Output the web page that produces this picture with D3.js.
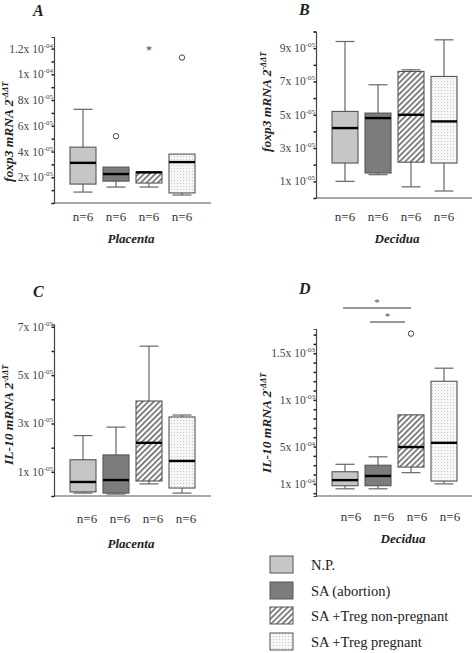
<!DOCTYPE html>
<html><head><meta charset="utf-8">
<script src="https://cdn.jsdelivr.net/npm/d3@7"></script>
<style>body{margin:0;background:#fff}svg{display:block}text{font-family:"Liberation Serif","Times New Roman",serif;fill:#222}</style>
</head><body><svg id="c" width="475" height="653"></svg>
<script>
// ---- data ----
const groups = ["N.P.", "SA (abortion)", "SA +Treg non-pregnant", "SA +Treg pregnant"];
const nLabels = ["n=6", "n=6", "n=6", "n=6"];
// [whisker low, Q1, median, Q3, whisker high]
const foxp3Placenta = [
  [0.85e-5, 1.47e-5, 3.12e-5, 4.34e-5, 7.28e-5],
  [1.24e-5, 1.70e-5, 2.25e-5, 2.79e-5, 2.79e-5],
  [1.24e-5, 1.55e-5, 2.38e-5, 2.42e-5, 2.42e-5],
  [0.62e-5, 0.78e-5, 3.18e-5, 3.80e-5, 3.80e-5]
];
const foxp3PlacentaOutliers = [[1, 5.19e-5, "o"], [2, 1.20e-4, "*"], [3, 1.13e-4, "o"]];
const foxp3Decidua = [
  [1.00e-5, 2.10e-5, 4.20e-5, 5.20e-5, 9.40e-5],
  [1.40e-5, 1.50e-5, 4.80e-5, 5.10e-5, 6.80e-5],
  [0.67e-5, 2.15e-5, 5.00e-5, 7.60e-5, 7.70e-5],
  [0.42e-5, 2.10e-5, 4.60e-5, 7.30e-5, 9.50e-5]
];
const foxp3DeciduaOutliers = [];
const il10Placenta = [
  [0.12e-5, 0.17e-5, 0.58e-5, 1.50e-5, 2.50e-5],
  [0.08e-5, 0.12e-5, 0.66e-5, 1.70e-5, 2.85e-5],
  [0.50e-5, 0.62e-5, 2.20e-5, 3.93e-5, 6.20e-5],
  [0.12e-5, 0.33e-5, 1.45e-5, 3.27e-5, 3.35e-5]
];
const il10PlacentaOutliers = [];
const il10Decidua = [
  [0.47e-4, 0.80e-4, 1.40e-4, 2.30e-4, 3.10e-4],
  [0.47e-4, 0.80e-4, 1.85e-4, 3.00e-4, 3.90e-4],
  [2.20e-4, 2.80e-4, 4.95e-4, 8.40e-4, 8.40e-4],
  [1.00e-4, 1.30e-4, 5.40e-4, 1.20e-3, 1.34e-3]
];
const il10DeciduaOutliers = [[2, 1.71e-3, "o"]];
// significance brackets: [from group, to group]
const il10DeciduaSig = [[0, 2], [1, 2]];

const foxp3PlacentaTicks = [2e-5, 4e-5, 6e-5, 8e-5, 1e-4, 1.2e-4];
const foxp3PlacentaTickMant = ["2", "4", "6", "8", "1", "1.2"];
const foxp3PlacentaTickExp = ["-05", "-05", "-05", "-05", "-04", "-04"];
const foxp3DeciduaTicks = [1e-5, 3e-5, 5e-5, 7e-5, 9e-5];
const foxp3DeciduaTickMant = ["1", "3", "5", "7", "9"];
const foxp3DeciduaTickExp = ["-05", "-05", "-05", "-05", "-05"];
const il10PlacentaTicks = [1e-5, 3e-5, 5e-5, 7e-5];
const il10PlacentaTickMant = ["1", "3", "5", "7"];
const il10PlacentaTickExp = ["-05", "-05", "-05", "-05"];
const il10DeciduaTicks = [1e-4, 5e-4, 1e-3, 1.5e-3];
const il10DeciduaTickMant = ["1", "5", "1", "1.5"];
const il10DeciduaTickExp = ["-04", "-04", "-03", "-03"];

// ---- layout ----
const panels = [
  {letter: "A", stats: foxp3Placenta, out: foxp3PlacentaOutliers, sig: [], gene: "foxp3", tissue: "Placenta",
   ticks: foxp3PlacentaTicks, mant: foxp3PlacentaTickMant, exp: foxp3PlacentaTickExp,
   domain: [0, 1.29e-4], minor: 1e-5, ax: 54, axEnd: 211, yBot: 203, yTop: 37,
   letterPos: [33, 16], ylab: [13, 132], nY: 221, nDx: 0, tY: 243, tX: 131},
  {letter: "B", stats: foxp3Decidua, out: foxp3DeciduaOutliers, sig: [], gene: "foxp3", tissue: "Decidua",
   ticks: foxp3DeciduaTicks, mant: foxp3DeciduaTickMant, exp: foxp3DeciduaTickExp,
   domain: [0, 1.0e-4], minor: 1e-5, ax: 316, axEnd: 472, yBot: 198, yTop: 31.5,
   letterPos: [299, 15], ylab: [271, 102], nY: 221, nDx: 0, tY: 243, tX: 397},
  {letter: "C", stats: il10Placenta, out: il10PlacentaOutliers, sig: [], gene: "IL-10", tissue: "Placenta",
   ticks: il10PlacentaTicks, mant: il10PlacentaTickMant, exp: il10PlacentaTickExp,
   domain: [0, 7.1e-5], minor: 1e-5, ax: 54, axEnd: 211, yBot: 496, yTop: 324.4,
   letterPos: [33, 297], ylab: [13, 415], nY: 523, nDx: 4, tY: 548, tX: 131},
  {letter: "D", stats: il10Decidua, out: il10DeciduaOutliers, sig: il10DeciduaSig, gene: "IL-10", tissue: "Decidua",
   ticks: il10DeciduaTicks, mant: il10DeciduaTickMant, exp: il10DeciduaTickExp,
   domain: [-3e-5, 1.76e-3], minor: 1e-4, ax: 316, axEnd: 472, yBot: 496, yTop: 329,
   letterPos: [299, 294], ylab: [271, 423], nY: 521, nDx: 6, tY: 543, tX: 403,
   sigY: [308, 322], sigOff: [[-2, 0], [-8, -6]]}
];

const svg = d3.select("#c");
const defs = svg.append("defs");
const hatch = defs.append("pattern").attr("id", "hatch").attr("patternUnits", "userSpaceOnUse")
  .attr("width", 4).attr("height", 4).attr("patternTransform", "rotate(45)");
hatch.append("rect").attr("width", 4).attr("height", 4).attr("fill", "#fff");
hatch.append("line").attr("x1", 0.8).attr("y1", 0).attr("x2", 0.8).attr("y2", 4).attr("stroke", "#444").attr("stroke-width", 1.3);
const dots = defs.append("pattern").attr("id", "dots").attr("patternUnits", "userSpaceOnUse").attr("width", 3).attr("height", 3);
dots.append("rect").attr("width", 3).attr("height", 3).attr("fill", "#f6f6f6");
dots.append("rect").attr("width", 1).attr("height", 1).attr("fill", "#c8c8c8");

const fills = ["#c6c6c6", "#7c7c7c", "url(#hatch)", "url(#dots)"];
const BW = 26, CAP = 19;

panels.forEach(p => {
  const g = svg.append("g");
  const y = d3.scaleLinear().domain(p.domain).range([p.yBot, p.yTop]);
  const x = d3.scalePoint().domain(groups).range([p.ax + 29, p.ax + 128]);

  // y axis
  const minorVals = d3.range(Math.ceil(p.domain[0] / p.minor) * p.minor, p.domain[1] + 1e-12, p.minor)
    .map(v => Math.round(v / p.minor) * p.minor);
  const axis = d3.axisLeft(y).tickValues(minorVals).tickSize(2.5).tickFormat("");
  const ag = g.append("g").attr("transform", `translate(${p.ax},0)`).call(axis);
  ag.select(".domain").attr("stroke", "#444").attr("stroke-width", 1.2);
  ag.selectAll(".tick line").attr("stroke", "#222").attr("stroke-width", 1.5);
  // tick labels
  p.ticks.forEach((v, i) => {
    const t = g.append("text").attr("x", p.ax - 1).attr("y", y(v) + 4).attr("text-anchor", "end")
      .style("font-size", "11.5px").style("fill", "#444");
    t.append("tspan").text(p.mant[i] + "x 10");
    t.append("tspan").attr("dy", -5).style("font-size", "7px").text(p.exp[i]);
  });
  // x axis line
  g.append("line").attr("x1", p.ax).attr("x2", p.axEnd).attr("y1", p.yBot).attr("y2", p.yBot)
    .attr("stroke", "#555").attr("stroke-width", 1.2);

  // boxes
  p.stats.forEach((s, i) => {
    const cx = x(groups[i]);
    const [lo, q1, md, q3, hi] = s;
    const wc = "#666";
    g.append("line").attr("x1", cx).attr("x2", cx).attr("y1", y(hi)).attr("y2", y(q3)).attr("stroke", wc).attr("stroke-width", 1.2);
    g.append("line").attr("x1", cx).attr("x2", cx).attr("y1", y(q1)).attr("y2", y(lo)).attr("stroke", wc).attr("stroke-width", 1.2);
    if (hi > q3) g.append("line").attr("x1", cx - CAP / 2).attr("x2", cx + CAP / 2).attr("y1", y(hi)).attr("y2", y(hi)).attr("stroke", wc).attr("stroke-width", 1.2);
    g.append("line").attr("x1", cx - CAP / 2).attr("x2", cx + CAP / 2).attr("y1", y(lo)).attr("y2", y(lo)).attr("stroke", wc).attr("stroke-width", 1.2);
    g.append("rect").attr("x", cx - BW / 2).attr("width", BW).attr("y", y(q3)).attr("height", y(q1) - y(q3))
      .attr("fill", fills[i]).attr("stroke", "#555").attr("stroke-width", 1.1);
    g.append("line").attr("x1", cx - BW / 2).attr("x2", cx + BW / 2).attr("y1", y(md)).attr("y2", y(md))
      .attr("stroke", "#000").attr("stroke-width", 2.4);
  });
  // outliers
  p.out.forEach(([gi, v, type]) => {
    const cx = x(groups[gi]);
    if (type === "o") {
      g.append("circle").attr("cx", cx).attr("cy", y(v)).attr("r", 2.7).attr("fill", "none").attr("stroke", "#444").attr("stroke-width", 1);
    } else {
      g.append("text").attr("x", cx).attr("y", y(v) + 5).attr("text-anchor", "middle").style("font-size", "12px").style("fill", "#444").text("*");
    }
  });
  // significance
  p.sig.forEach(([a, b], k) => {
    const x1 = x(groups[a]) + p.sigOff[k][0], x2 = x(groups[b]) + p.sigOff[k][1];
    const ly = p.sigY[k];
    g.append("line").attr("x1", x1).attr("x2", x2).attr("y1", ly).attr("y2", ly).attr("stroke", "#777").attr("stroke-width", 1.3);
    g.append("text").attr("x", (x1 + x2) / 2 + (k === 0 ? 0 : 0)).attr("y", ly - 2).attr("text-anchor", "middle")
      .style("font-size", "11px").style("fill", "#555").text("*");
  });
  // n labels
  nLabels.forEach((n, i) => {
    g.append("text").attr("x", x(groups[i]) + p.nDx).attr("y", p.nY).attr("text-anchor", "middle")
      .style("font-size", "13px").style("fill", "#333").text(n);
  });
  // tissue label
  g.append("text").attr("x", p.tX).attr("y", p.tY).attr("text-anchor", "middle")
    .style("font-size", "13px").style("font-weight", "bold").style("font-style", "italic").text(p.tissue);
  // panel letter
  g.append("text").attr("x", p.letterPos[0]).attr("y", p.letterPos[1])
    .style("font-size", "16px").style("font-weight", "bold").style("font-style", "italic").text(p.letter);
  // y label
  const yl = g.append("text").attr("transform", `translate(${p.ylab[0]},${p.ylab[1]}) rotate(-90)`)
    .attr("text-anchor", "middle").style("font-size", "13.5px").style("font-weight", "bold").style("font-style", "italic");
  yl.append("tspan").text(p.gene + " mRNA 2");
  yl.append("tspan").attr("dy", -5).style("font-size", "8px").text("-ΔΔT");
});

// legend
const lg = svg.append("g");
const legY = [556, 582, 607, 633];
groups.forEach((name, i) => {
  lg.append("rect").attr("x", 270).attr("y", legY[i]).attr("width", 23).attr("height", 17)
    .attr("fill", fills[i]).attr("stroke", "#555").attr("stroke-width", 1);
  lg.append("text").attr("x", 311).attr("y", legY[i] + 14).style("font-size", "14.5px").style("fill", "#222").text(name);
});
</script></body></html>
